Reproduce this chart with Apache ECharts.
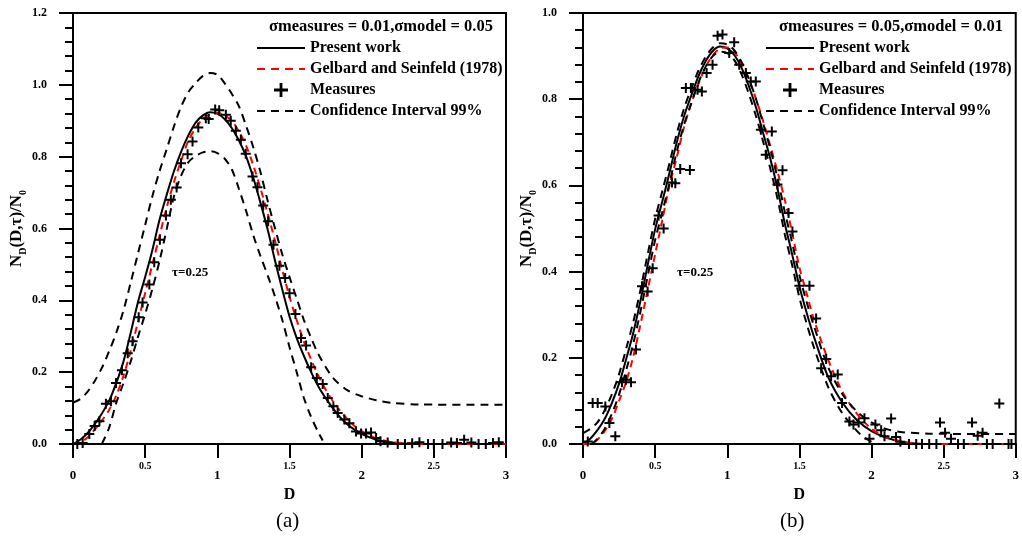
<!DOCTYPE html>
<html>
<head>
<meta charset="utf-8">
<script src="https://cdn.jsdelivr.net/npm/echarts@6/dist/echarts.min.js"></script>
<style>
  html, body { margin: 0; padding: 0; background: #fff; }
  #chart { width: 1022px; height: 545px; }
</style>
</head>
<body>
<div id="chart"></div>
<script>
// panel (a): sigma measures = 0.01, sigma model = 0.05
const presentA = [[0,0],[0.05,0.012],[0.1,0.03],[0.15,0.055],[0.2,0.085],[0.25,0.12],[0.3,0.17],[0.35,0.23],[0.4,0.31],[0.45,0.395],[0.5,0.465],[0.55,0.54],[0.6,0.625],[0.65,0.695],[0.7,0.76],[0.75,0.815],[0.8,0.86],[0.85,0.895],[0.9,0.915],[0.95,0.924],[1.0,0.92],[1.05,0.905],[1.1,0.88],[1.15,0.845],[1.2,0.8],[1.25,0.74],[1.3,0.67],[1.35,0.595],[1.4,0.51],[1.45,0.43],[1.5,0.355],[1.55,0.295],[1.6,0.245],[1.65,0.2],[1.7,0.16],[1.75,0.128],[1.8,0.1],[1.85,0.075],[1.9,0.055],[1.95,0.04],[2.0,0.028],[2.1,0.012],[2.2,0.004],[2.3,0.001],[2.4,0],[3.0,0]];
const gelbardA = [[0,0],[0.05,0.004],[0.1,0.018],[0.15,0.04],[0.2,0.065],[0.25,0.095],[0.3,0.135],[0.35,0.19],[0.4,0.26],[0.45,0.34],[0.5,0.42],[0.55,0.5],[0.6,0.58],[0.65,0.66],[0.7,0.73],[0.75,0.79],[0.8,0.845],[0.85,0.88],[0.9,0.905],[0.95,0.918],[1.0,0.922],[1.05,0.915],[1.1,0.9],[1.15,0.87],[1.2,0.83],[1.25,0.775],[1.3,0.71],[1.35,0.64],[1.4,0.565],[1.45,0.485],[1.5,0.41],[1.55,0.345],[1.6,0.285],[1.65,0.235],[1.7,0.19],[1.75,0.152],[1.8,0.12],[1.85,0.093],[1.9,0.07],[1.95,0.05],[2.0,0.036],[2.1,0.016],[2.2,0.006],[2.3,0.002],[2.4,0],[3.0,0]];
const upperA = [[0,0.115],[0.05,0.125],[0.1,0.145],[0.15,0.175],[0.2,0.212],[0.25,0.258],[0.3,0.31],[0.35,0.372],[0.4,0.45],[0.45,0.53],[0.5,0.61],[0.55,0.69],[0.6,0.76],[0.65,0.822],[0.7,0.885],[0.75,0.94],[0.8,0.98],[0.85,1.005],[0.9,1.025],[0.95,1.033],[1.0,1.028],[1.05,1.005],[1.1,0.975],[1.15,0.94],[1.2,0.885],[1.25,0.825],[1.3,0.755],[1.35,0.675],[1.4,0.6],[1.45,0.528],[1.5,0.465],[1.55,0.405],[1.6,0.345],[1.65,0.295],[1.7,0.25],[1.8,0.185],[1.9,0.15],[2.0,0.133],[2.1,0.122],[2.2,0.115],[2.4,0.11],[3.0,0.109]];
const lowerA = [[0.2,0],[0.25,0.045],[0.3,0.115],[0.35,0.17],[0.4,0.23],[0.45,0.298],[0.5,0.362],[0.55,0.432],[0.6,0.51],[0.65,0.6],[0.7,0.69],[0.75,0.748],[0.8,0.785],[0.85,0.802],[0.9,0.812],[0.95,0.815],[1.0,0.81],[1.05,0.795],[1.1,0.765],[1.15,0.71],[1.2,0.648],[1.25,0.58],[1.3,0.522],[1.35,0.468],[1.4,0.41],[1.45,0.345],[1.5,0.27],[1.55,0.2],[1.6,0.128],[1.65,0.075],[1.7,0.032],[1.73,0.01]];
const measuresA = [[0.03,0],[0.067,0.003],[0.113,0.028],[0.15,0.05],[0.183,0.063],[0.228,0.112],[0.263,0.119],[0.298,0.17],[0.339,0.205],[0.379,0.253],[0.413,0.286],[0.455,0.353],[0.482,0.394],[0.529,0.444],[0.563,0.506],[0.602,0.569],[0.644,0.636],[0.678,0.68],[0.718,0.714],[0.748,0.782],[0.794,0.807],[0.828,0.842],[0.868,0.881],[0.92,0.907],[0.94,0.905],[0.985,0.931],[1.013,0.929],[1.059,0.917],[1.093,0.9],[1.128,0.872],[1.163,0.847],[1.197,0.808],[1.244,0.745],[1.278,0.715],[1.318,0.664],[1.352,0.62],[1.389,0.555],[1.43,0.496],[1.47,0.462],[1.5,0.42],[1.541,0.362],[1.58,0.295],[1.615,0.274],[1.65,0.214],[1.689,0.184],[1.73,0.167],[1.765,0.128],[1.804,0.105],[1.834,0.086],[1.88,0.068],[1.915,0.058],[1.961,0.035],[1.996,0.029],[2.03,0.029],[2.065,0.032],[2.1,0.017],[2.13,0.008],[2.18,0.004],[2.25,0],[2.3,0],[2.35,0.002],[2.4,0.005],[2.46,0],[2.5,0],[2.56,0],[2.62,0.004],[2.66,0.003],[2.71,0.012],[2.76,0.004],[2.81,0],[2.86,0],[2.91,0.003],[2.95,0.005]];

// panel (b): sigma measures = 0.05, sigma model = 0.01
const presentB = [[0,0],[0.05,0.012],[0.1,0.032],[0.15,0.058],[0.2,0.095],[0.25,0.14],[0.3,0.198],[0.35,0.26],[0.4,0.335],[0.45,0.418],[0.5,0.498],[0.55,0.563],[0.6,0.63],[0.65,0.7],[0.7,0.76],[0.75,0.808],[0.8,0.853],[0.85,0.888],[0.9,0.912],[0.95,0.922],[1.0,0.918],[1.05,0.902],[1.1,0.872],[1.15,0.83],[1.2,0.78],[1.25,0.72],[1.3,0.66],[1.35,0.59],[1.4,0.51],[1.45,0.44],[1.5,0.366],[1.55,0.305],[1.6,0.25],[1.7,0.155],[1.8,0.095],[1.9,0.055],[2.0,0.03],[2.1,0.015],[2.2,0.006],[2.3,0.001],[2.4,0],[3.0,0]];
const gelbardB = [[0,0],[0.05,0],[0.1,0.01],[0.15,0.03],[0.2,0.058],[0.25,0.1],[0.3,0.145],[0.35,0.205],[0.4,0.28],[0.45,0.36],[0.5,0.44],[0.55,0.52],[0.6,0.6],[0.65,0.665],[0.7,0.735],[0.75,0.79],[0.8,0.835],[0.85,0.875],[0.9,0.902],[0.95,0.918],[1.0,0.92],[1.05,0.91],[1.1,0.882],[1.15,0.846],[1.2,0.8],[1.25,0.748],[1.3,0.69],[1.35,0.63],[1.4,0.565],[1.45,0.49],[1.5,0.41],[1.55,0.35],[1.6,0.29],[1.7,0.195],[1.8,0.12],[1.9,0.07],[2.0,0.035],[2.1,0.016],[2.2,0.006],[2.3,0.001],[2.4,0],[3.0,0]];
const upperB = [[0,0.025],[0.05,0.035],[0.1,0.05],[0.15,0.078],[0.2,0.115],[0.25,0.162],[0.3,0.222],[0.35,0.285],[0.4,0.36],[0.45,0.443],[0.5,0.522],[0.55,0.587],[0.6,0.652],[0.65,0.72],[0.7,0.778],[0.75,0.824],[0.8,0.866],[0.85,0.898],[0.9,0.92],[0.95,0.93],[1.0,0.927],[1.05,0.913],[1.1,0.886],[1.15,0.847],[1.2,0.8],[1.25,0.742],[1.3,0.683],[1.35,0.615],[1.4,0.537],[1.45,0.467],[1.5,0.392],[1.55,0.33],[1.6,0.275],[1.7,0.178],[1.8,0.115],[1.9,0.075],[2.0,0.05],[2.1,0.035],[2.2,0.028],[2.4,0.024],[3.0,0.023]];
const lowerB = [[0.06,0],[0.1,0.012],[0.15,0.035],[0.2,0.07],[0.25,0.115],[0.3,0.172],[0.35,0.235],[0.4,0.31],[0.45,0.392],[0.5,0.473],[0.55,0.538],[0.6,0.606],[0.65,0.678],[0.7,0.74],[0.75,0.79],[0.8,0.838],[0.85,0.875],[0.9,0.9],[0.95,0.91],[1.0,0.907],[1.05,0.89],[1.1,0.857],[1.15,0.812],[1.2,0.76],[1.25,0.7],[1.3,0.637],[1.35,0.567],[1.4,0.485],[1.45,0.415],[1.5,0.34],[1.55,0.28],[1.6,0.225],[1.7,0.132],[1.8,0.07],[1.9,0.03],[1.95,0.015],[2.0,0.005]];
const measuresB = [[0.033,0.006],[0.067,0.095],[0.102,0.095],[0.155,0.087],[0.183,0.049],[0.224,0.018],[0.27,0.143],[0.298,0.149],[0.333,0.143],[0.367,0.219],[0.409,0.366],[0.448,0.354],[0.483,0.408],[0.524,0.53],[0.559,0.5],[0.617,0.607],[0.64,0.605],[0.674,0.638],[0.741,0.636],[0.713,0.826],[0.748,0.826],[0.794,0.822],[0.824,0.818],[0.857,0.861],[0.898,0.88],[0.933,0.947],[0.967,0.95],[1.014,0.907],[1.048,0.932],[1.083,0.88],[1.129,0.861],[1.163,0.841],[1.198,0.841],[1.233,0.729],[1.267,0.671],[1.309,0.725],[1.348,0.602],[1.383,0.635],[1.425,0.536],[1.452,0.493],[1.5,0.367],[1.57,0.367],[1.616,0.291],[1.651,0.176],[1.686,0.197],[1.72,0.157],[1.766,0.161],[1.796,0.095],[1.847,0.052],[1.875,0.045],[1.911,0.05],[1.951,0.06],[1.986,0.012],[2.027,0.045],[2.067,0.032],[2.09,0.018],[2.136,0.059],[2.17,0.016],[2.2,0.005],[2.26,0],[2.31,0],[2.35,0],[2.4,0],[2.45,0],[2.475,0.05],[2.51,0.026],[2.551,0.012],[2.6,0],[2.64,0],[2.697,0.05],[2.736,0.019],[2.77,0.026],[2.8,0],[2.84,0],[2.886,0.094],[2.95,0],[2.97,0]];

const titleA = 'σmeasures = 0.01,σmodel = 0.05';
const titleB = 'σmeasures = 0.05,σmodel = 0.01';
const names = ['Present work', 'Gelbard and Seinfeld (1978)', 'Measures', 'Confidence Interval 99%'];
const yMaxA = 1.2, yMaxB = 1.0;

const F = '"Liberation Serif", "Times New Roman", serif';
const PLUS = 'path://M4,0H6V4H10V6H6V10H4V6H0V4H4Z';
// legend samples: a solid stroke and a dashed stroke, 48 px wide
const SOLID = 'path://M0,0H48V2H0Z';
const DASHED = 'path://M0,0H8V2H0Z M14,0H22V2H14Z M28,0H36V2H28Z M42,0H48V2H42Z';
const legendIcons = { 'Present work': SOLID, 'Gelbard and Seinfeld (1978)': DASHED, 'Measures': PLUS, 'Confidence Interval 99%': DASHED };

function xAxis(gi) {
  return {
    type: 'value', gridIndex: gi, min: 0, max: 3, interval: 0.5,
    name: 'D', nameLocation: 'middle', nameGap: 42,
    nameTextStyle: { fontFamily: F, fontWeight: 'bold', fontSize: 16, color: '#000' },
    axisLine: { onZero: false, lineStyle: { color: '#000', width: 2 } },
    axisTick: { length: 14, lineStyle: { color: '#000', width: 2 } },
    splitLine: { show: false },
    axisLabel: {
      margin: 17,
      formatter: v => Number.isInteger(v) ? '{b|' + v + '}' : '{s|' + v + '}',
      rich: {
        b: { fontFamily: F, fontWeight: 'bold', fontSize: 13, color: '#000', padding: [8, 0, 0, 0] },
        s: { fontFamily: F, fontWeight: 'bold', fontSize: 10, color: '#000' }
      }
    }
  };
}

function yAxis(gi, max) {
  return {
    type: 'value', gridIndex: gi, min: 0, max: max, interval: 0.2,
    name: '{a|N}{s|D}{a|(D,τ)/N}{s|0}', nameLocation: 'middle', nameGap: 41,
    nameTextStyle: {
      rich: {
        a: { fontFamily: F, fontWeight: 'bold', fontSize: 17, color: '#000', lineHeight: 20, verticalAlign: 'top' },
        s: { fontFamily: F, fontWeight: 'bold', fontSize: 10, color: '#000', lineHeight: 20, verticalAlign: 'bottom' }
      }
    },
    axisLine: { lineStyle: { color: '#000', width: 2 } },
    axisTick: { length: 14, lineStyle: { color: '#000', width: 2 } },
    minorTick: { show: true, splitNumber: 5, length: 8, lineStyle: { color: '#000', width: 2 } },
    splitLine: { show: false },
    axisLabel: { margin: 26, formatter: v => v.toFixed(1), fontFamily: F, fontWeight: 'bold', fontSize: 12, color: '#000' }
  };
}

function line(name, data, gi, color, type) {
  return {
    name: name, type: 'line', data: data, xAxisIndex: gi, yAxisIndex: gi,
    smooth: 0.3, symbol: 'none', clip: true,
    lineStyle: { color: color, width: 2, type: type },
    itemStyle: { color: color }
  };
}

function scatter(data, gi) {
  return {
    name: 'Measures', type: 'scatter', data: data, xAxisIndex: gi, yAxisIndex: gi,
    symbol: PLUS, symbolSize: 10, itemStyle: { color: '#000', opacity: 1 }, z: 5
  };
}

function legend(left) {
  return {
    orient: 'vertical', left: left, top: 40, padding: 0,
    itemWidth: 48, itemHeight: 14, itemGap: 5,
    textStyle: { fontFamily: F, fontWeight: 'bold', fontSize: 16, color: '#000' },
    data: names.map(n => ({ name: n, icon: legendIcons[n] })),
    selectedMode: false
  };
}

function panel(gi, present, gelbard, upper, lower, measures) {
  return [
    line('Present work', present, gi, '#000', 'solid'),
    line('Gelbard and Seinfeld (1978)', gelbard, gi, '#ff0000', [7, 5]),
    scatter(measures, gi),
    line('Confidence Interval 99%', upper, gi, '#000', [8, 6]),
    line('Confidence Interval 99%', lower, gi, '#000', [8, 6])
  ];
}

const chart = echarts.init(document.getElementById('chart'), null, { renderer: 'canvas' });
chart.setOption({
  backgroundColor: '#fff',
  animation: false,
  title: [
    { text: titleA, left: 269, top: 18, padding: 0, textStyle: { fontFamily: F, fontWeight: 'bold', fontSize: 16.5, color: '#000' } },
    { text: titleB, left: 779, top: 18, padding: 0, textStyle: { fontFamily: F, fontWeight: 'bold', fontSize: 16.5, color: '#000' } }
  ],
  legend: [legend(257), legend(766)],
  grid: [
    { left: 73, top: 13, width: 433, height: 431, show: true, borderColor: '#000', borderWidth: 2 },
    { left: 583, top: 13, width: 433, height: 431, show: true, borderColor: '#000', borderWidth: 2 }
  ],
  xAxis: [xAxis(0), xAxis(1)],
  yAxis: [yAxis(0, yMaxA), yAxis(1, yMaxB)],
  graphic: [
    { type: 'text', left: 172, top: 266, style: { text: 'τ=0.25', font: 'bold 13px ' + F, fill: '#000' } },
    { type: 'text', left: 677, top: 266, style: { text: 'τ=0.25', font: 'bold 13px ' + F, fill: '#000' } },
    { type: 'text', left: 276, top: 511, style: { text: '(a)', font: '21px ' + F, fill: '#000' } },
    { type: 'text', left: 780, top: 511, style: { text: '(b)', font: '21px ' + F, fill: '#000' } }
  ],
  series: [].concat(
    panel(0, presentA, gelbardA, upperA, lowerA, measuresA),
    panel(1, presentB, gelbardB, upperB, lowerB, measuresB)
  )
});
</script>
</body>
</html>
